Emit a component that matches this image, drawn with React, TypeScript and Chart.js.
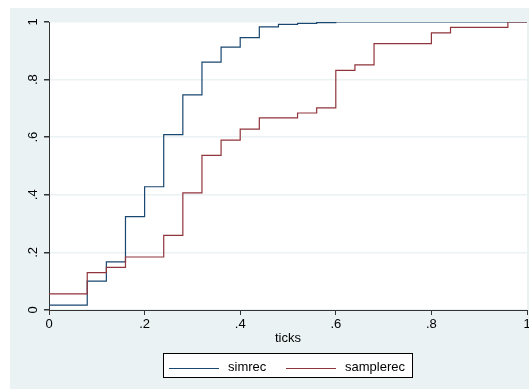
import React, { useEffect, useRef } from "react";
import { Chart, registerables } from "chart.js";

Chart.register(...registerables);

const ticks = [0, 0.04, 0.08, 0.12, 0.16, 0.2, 0.24, 0.28, 0.32, 0.36, 0.4, 0.44, 0.48, 0.52, 0.56, 0.6, 0.64, 0.68, 0.72, 0.76, 0.8, 0.84, 0.88, 0.92, 0.96, 1.0];
const simrec = [0.017, 0.017, 0.1, 0.167, 0.324, 0.428, 0.609, 0.747, 0.861, 0.913, 0.946, 0.983, 0.992, 0.995, 0.998, 1, 1, 1, 1, 1, 1, 1, 1, 1, 1, 1];
const samplerec = [0.056, 0.056, 0.13, 0.148, 0.184, 0.184, 0.259, 0.407, 0.537, 0.59, 0.628, 0.667, 0.667, 0.684, 0.702, 0.832, 0.851, 0.925, 0.925, 0.925, 0.962, 0.981, 0.981, 0.981, 1.0, 1.0];
const axisTicks = [0, 0.2, 0.4, 0.6, 0.8, 1];
const axisLabels = ["0", ".2", ".4", ".6", ".8", "1"];
const seriesNames = ["simrec", "samplerec"];
const seriesColors = ["#1A476F", "#90353B"];
const xTitle = "ticks";

const BG = "#EAF2F3";
const FONT = "'Liberation Sans', Arial, sans-serif";

function fmt(v: number): string {
  const r = Math.round(v * 10) / 10;
  const i = axisTicks.findIndex((t) => Math.abs(t - r) < 1e-9);
  return i >= 0 ? axisLabels[i] : String(r);
}

const decorPlugin = {
  id: "decor",
  beforeDraw(chart: any) {
    const { ctx, chartArea, width, height } = chart;
    ctx.save();
    ctx.fillStyle = BG;
    ctx.fillRect(0, 0, width, height);
    ctx.fillStyle = "#ffffff";
    ctx.fillRect(chartArea.left, chartArea.top, chartArea.right - chartArea.left, chartArea.bottom - chartArea.top);
    ctx.restore();
  },
  afterDraw(chart: any) {
    const { ctx } = chart;
    const ys = chart.scales.y;
    const xs = chart.scales.x;
    ctx.save();
    ctx.fillStyle = "#000";
    ctx.font = `13px ${FONT}`;
    axisTicks.forEach((v, i) => {
      const py = ys.getPixelForValue(v);
      ctx.save();
      ctx.translate(23, py);
      ctx.rotate(-Math.PI / 2);
      ctx.textAlign = "center";
      ctx.textBaseline = "middle";
      ctx.fillText(axisLabels[i], 0, 0);
      ctx.restore();
    });
    ctx.textAlign = "center";
    ctx.textBaseline = "middle";
    ctx.fillText(xTitle, (xs.left + xs.right) / 2, 330);
    const bx = 153, by = 345, bw = 249, bh = 24;
    ctx.fillStyle = "#fff";
    ctx.fillRect(bx, by, bw, bh);
    ctx.strokeStyle = "#000";
    ctx.lineWidth = 1;
    ctx.strokeRect(bx + 0.5, by + 0.5, bw, bh);
    const items = [
      { x1: 159, x2: 209, tx: 218 },
      { x1: 276, x2: 326, tx: 335 },
    ];
    items.forEach((it, i) => {
      ctx.strokeStyle = seriesColors[i];
      ctx.lineWidth = 1.2;
      ctx.beginPath();
      ctx.moveTo(it.x1, 360.5);
      ctx.lineTo(it.x2, 360.5);
      ctx.stroke();
      ctx.fillStyle = "#000";
      ctx.textAlign = "left";
      ctx.textBaseline = "middle";
      ctx.fillText(seriesNames[i], it.tx, 359);
    });
    ctx.restore();
  },
};

export default function App() {
  const ref = useRef<HTMLCanvasElement | null>(null);
  useEffect(() => {
    if (!ref.current) return;
    const mk = (vals: number[]) => ticks.map((t, i) => ({ x: t, y: vals[i] }));
    const chart = new Chart(ref.current, {
      type: "line",
      data: {
        datasets: [
          {
            label: seriesNames[0],
            data: mk(simrec),
            borderColor: seriesColors[0],
            borderWidth: 1.2,
            pointRadius: 0,
            stepped: "before",
            fill: false,
            order: 1,
          },
          {
            label: seriesNames[1],
            data: mk(samplerec),
            borderColor: seriesColors[1],
            borderWidth: 1.2,
            pointRadius: 0,
            stepped: "before",
            fill: false,
            order: 0,
          },
        ],
      },
      options: {
        responsive: false,
        animation: false,
        devicePixelRatio: 1,
        layout: { padding: { top: 14, right: 2, left: 0, bottom: 0 } },
        plugins: { legend: { display: false }, tooltip: { enabled: false } },
        scales: {
          x: {
            type: "linear",
            min: 0,
            max: 1,
            afterBuildTicks: (s: any) => {
              s.ticks = axisTicks.map((v) => ({ value: v }));
            },
            afterFit: (s: any) => {
              s.height = 79;
              s.paddingLeft = 0;
              s.paddingRight = 0;
            },
            ticks: {
              color: "#000",
              font: { family: FONT, size: 13 },
              padding: 2,
              maxRotation: 0,
              autoSkip: false,
              callback: (v: any) => fmt(Number(v)),
            },
            grid: { drawOnChartArea: false, drawTicks: true, tickLength: 5, tickColor: "#333" },
            border: { display: true, color: "#333", width: 1 },
          },
          y: {
            type: "linear",
            min: 0,
            max: 1,
            afterBuildTicks: (s: any) => {
              s.ticks = axisTicks.map((v) => ({ value: v }));
            },
            afterFit: (s: any) => {
              s.width = 39;
              s.paddingTop = 0;
              s.paddingBottom = 0;
            },
            ticks: { display: false },
            grid: { color: BG, lineWidth: 1.5, drawTicks: true, tickLength: 5, tickColor: "#333" },
            border: { display: true, color: "#333", width: 1 },
          },
        },
      },
      plugins: [decorPlugin],
    } as any);
    return () => chart.destroy();
  }, []);
  return (
    <div style={{ position: "fixed", left: 10, top: 8, width: 519, height: 381 }}>
      <canvas ref={ref} width={519} height={381} style={{ width: 519, height: 381, display: "block" }} />
    </div>
  );
}
